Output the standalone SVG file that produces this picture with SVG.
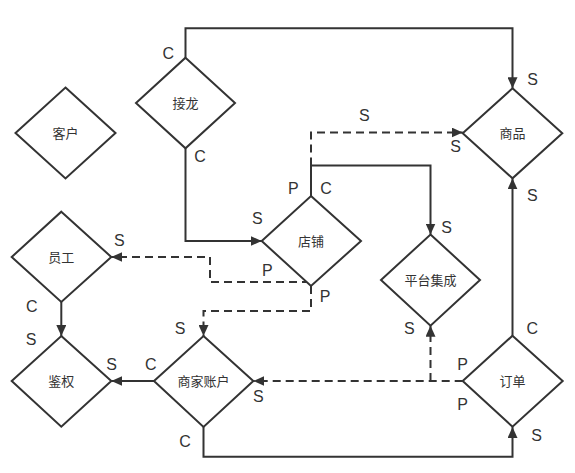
<svg xmlns="http://www.w3.org/2000/svg" width="575" height="473" viewBox="0 0 575 473">
<style>
.node polygon{fill:#fff;stroke:#333;stroke-width:2}
.node text{font-family:"Liberation Sans","Noto Sans CJK SC",sans-serif;font-size:13px;fill:#333;text-anchor:middle}
.edge{fill:none;stroke:#333;stroke-width:2}
.dash{stroke-dasharray:8 5}
.lbl{font-family:"Liberation Sans",Arial,sans-serif;font-size:16px;fill:#333;text-anchor:middle}
</style>
<defs>
<marker id="arr" markerUnits="userSpaceOnUse" markerWidth="11" markerHeight="10" refX="11" refY="5" orient="auto" viewBox="0 0 11 10">
<path d="M0,0 L11,5 L0,10 z" fill="#333"/>
</marker>
</defs>
<g id="connectors">
<path class="edge" d="M185.5,57.7 V28.3 H512.5 V88.3" marker-end="url(#arr)"/>
<path class="edge" d="M185.5,148.3 V241 H261.7" marker-end="url(#arr)"/>
<path class="edge" d="M311,196 V165.5 H430.5 V234.5" marker-end="url(#arr)"/>
<path class="edge dash" d="M311,165.5 V132.5 H462.7" marker-end="url(#arr)"/>
<path class="edge dash" d="M310,282 H210 V257 H111.3" marker-end="url(#arr)"/>
<path class="edge dash" d="M311,286 V311 H203.5 V336" marker-end="url(#arr)"/>
<path class="edge" d="M61.3,302 V336" marker-end="url(#arr)"/>
<path class="edge" d="M154,381 H111.3" marker-end="url(#arr)"/>
<path class="edge" d="M203.5,427 V456.7 H512.5 V427" marker-end="url(#arr)"/>
<path class="edge dash" d="M462.7,381 H253.3" marker-end="url(#arr)"/>
<path class="edge dash" d="M430.5,381 V325.7" marker-end="url(#arr)"/>
<path class="edge" d="M512.5,335.7 V178.3" marker-end="url(#arr)"/>
</g>
<g id="labels" class="lbl">
<text class="lbl" x="168.3" y="59">C</text>
<text class="lbl" x="532.7" y="84.7">S</text>
<text class="lbl" x="200" y="162.4">C</text>
<text class="lbl" x="257.3" y="224">S</text>
<text class="lbl" x="293.3" y="194">P</text>
<text class="lbl" x="326" y="194">C</text>
<text class="lbl" x="446.7" y="233.4">S</text>
<text class="lbl" x="364.3" y="120.7">S</text>
<text class="lbl" x="455.7" y="151.7">S</text>
<text class="lbl" x="267.3" y="275.7">P</text>
<text class="lbl" x="119.3" y="245.7">S</text>
<text class="lbl" x="325" y="301.7">P</text>
<text class="lbl" x="180" y="334">S</text>
<text class="lbl" x="31.7" y="312.4">C</text>
<text class="lbl" x="31" y="344.7">S</text>
<text class="lbl" x="150.7" y="370">C</text>
<text class="lbl" x="111.7" y="370">S</text>
<text class="lbl" x="185" y="447.4">C</text>
<text class="lbl" x="536.7" y="440.7">S</text>
<text class="lbl" x="462.7" y="370">P</text>
<text class="lbl" x="258.3" y="401.7">S</text>
<text class="lbl" x="409.3" y="334">S</text>
<text class="lbl" x="462.7" y="409.7">P</text>
<text class="lbl" x="532.3" y="334">C</text>
<text class="lbl" x="532.3" y="200.7">S</text>
</g>
<g id="jielong" class="node"><polygon points="185.5,57.7 235,103 185.5,148.3 136,103"/><text x="185.5" y="107.5">接龙</text></g>
<g id="kehu" class="node"><polygon points="65.5,87.5 115.5,133 65.5,178.5 15.5,133"/><text x="65.5" y="137.5">客户</text></g>
<g id="shangpin" class="node"><polygon points="512.5,88.3 562.3,133.3 512.5,178.3 462.7,133.3"/><text x="512.5" y="137.8">商品</text></g>
<g id="dianpu" class="node"><polygon points="311,196 361,241 311,286 261.7,241"/><text x="311" y="245.5">店铺</text></g>
<g id="yuangong" class="node"><polygon points="61.3,211.7 111.3,257 61.3,302 11.7,257"/><text x="61.3" y="261.5">员工</text></g>
<g id="pingtai" class="node"><polygon points="430.5,234.5 480,280 430.5,325.7 381,280"/><text x="430.5" y="284.5">平台集成</text></g>
<g id="jianquan" class="node"><polygon points="61.3,336 111.3,381 61.3,426.7 11.7,381"/><text x="61.3" y="385.5">鉴权</text></g>
<g id="shangjia" class="node"><polygon points="203.5,336 253.3,381 203.5,427 154,381"/><text x="203.5" y="385.5">商家账户</text></g>
<g id="dingdan" class="node"><polygon points="512.5,335.7 562.7,381 512.5,426.7 462.7,381"/><text x="512.5" y="385.5">订单</text></g>
</svg>
